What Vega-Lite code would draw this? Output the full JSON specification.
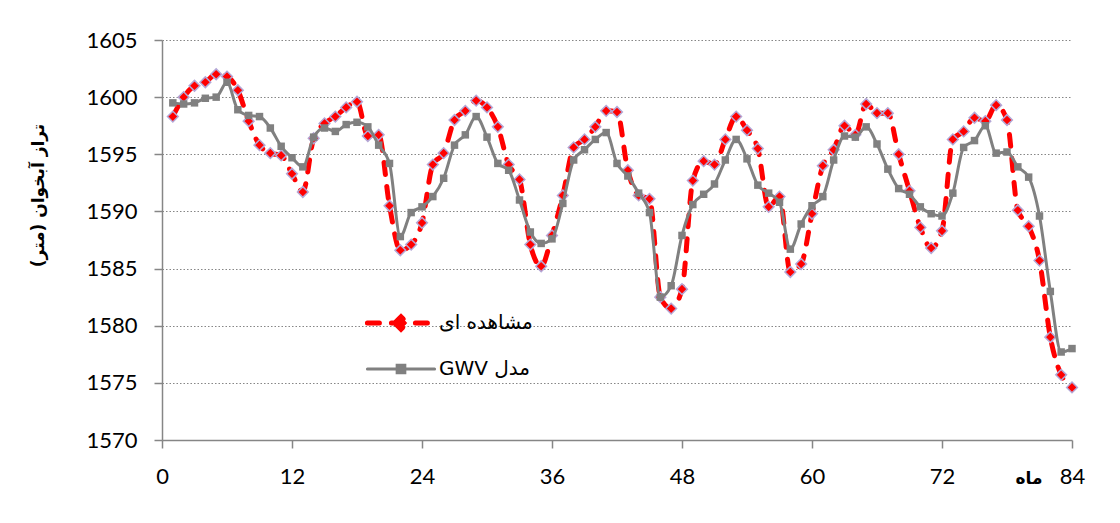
{
  "$schema": "https://vega.github.io/schema/vega-lite/v6.json",
  "width": 910,
  "height": 400,
  "autosize": {"type": "none"},
  "padding": {"left": 162, "top": 40, "right": 48, "bottom": 83},
  "background": "white",
  "config": {"view": {"stroke": null}, "font": "Lato"},
  "data": {"values": [
    {"month":1,"series":"مشاهده ای","level":1598.3},{"month":2,"series":"مشاهده ای","level":1600.0},{"month":3,"series":"مشاهده ای","level":1601.0},{"month":4,"series":"مشاهده ای","level":1601.3},{"month":5,"series":"مشاهده ای","level":1602.0},{"month":6,"series":"مشاهده ای","level":1601.8},{"month":7,"series":"مشاهده ای","level":1600.6},{"month":8,"series":"مشاهده ای","level":1597.9},{"month":9,"series":"مشاهده ای","level":1595.8},{"month":10,"series":"مشاهده ای","level":1595.1},{"month":11,"series":"مشاهده ای","level":1594.9},{"month":12,"series":"مشاهده ای","level":1593.3},{"month":13,"series":"مشاهده ای","level":1591.7},{"month":14,"series":"مشاهده ای","level":1596.4},{"month":15,"series":"مشاهده ای","level":1597.7},{"month":16,"series":"مشاهده ای","level":1598.3},{"month":17,"series":"مشاهده ای","level":1599.1},{"month":18,"series":"مشاهده ای","level":1599.6},{"month":19,"series":"مشاهده ای","level":1596.6},{"month":20,"series":"مشاهده ای","level":1596.7},{"month":21,"series":"مشاهده ای","level":1590.5},{"month":22,"series":"مشاهده ای","level":1586.6},{"month":23,"series":"مشاهده ای","level":1587.1},{"month":24,"series":"مشاهده ای","level":1589.0},{"month":25,"series":"مشاهده ای","level":1594.1},{"month":26,"series":"مشاهده ای","level":1595.1},{"month":27,"series":"مشاهده ای","level":1598.0},{"month":28,"series":"مشاهده ای","level":1598.8},{"month":29,"series":"مشاهده ای","level":1599.7},{"month":30,"series":"مشاهده ای","level":1599.1},{"month":31,"series":"مشاهده ای","level":1597.4},{"month":32,"series":"مشاهده ای","level":1594.1},{"month":33,"series":"مشاهده ای","level":1592.8},{"month":34,"series":"مشاهده ای","level":1587.1},{"month":35,"series":"مشاهده ای","level":1585.2},{"month":36,"series":"مشاهده ای","level":1587.9},{"month":37,"series":"مشاهده ای","level":1591.4},{"month":38,"series":"مشاهده ای","level":1595.6},{"month":39,"series":"مشاهده ای","level":1596.3},{"month":40,"series":"مشاهده ای","level":1597.4},{"month":41,"series":"مشاهده ای","level":1598.8},{"month":42,"series":"مشاهده ای","level":1598.7},{"month":43,"series":"مشاهده ای","level":1593.6},{"month":44,"series":"مشاهده ای","level":1591.4},{"month":45,"series":"مشاهده ای","level":1591.1},{"month":46,"series":"مشاهده ای","level":1582.5},{"month":47,"series":"مشاهده ای","level":1581.5},{"month":48,"series":"مشاهده ای","level":1583.2},{"month":49,"series":"مشاهده ای","level":1592.7},{"month":50,"series":"مشاهده ای","level":1594.4},{"month":51,"series":"مشاهده ای","level":1594.1},{"month":52,"series":"مشاهده ای","level":1596.3},{"month":53,"series":"مشاهده ای","level":1598.3},{"month":54,"series":"مشاهده ای","level":1597.1},{"month":55,"series":"مشاهده ای","level":1595.5},{"month":56,"series":"مشاهده ای","level":1590.4},{"month":57,"series":"مشاهده ای","level":1591.3},{"month":58,"series":"مشاهده ای","level":1584.7},{"month":59,"series":"مشاهده ای","level":1585.4},{"month":60,"series":"مشاهده ای","level":1589.8},{"month":61,"series":"مشاهده ای","level":1594.0},{"month":62,"series":"مشاهده ای","level":1595.4},{"month":63,"series":"مشاهده ای","level":1597.5},{"month":64,"series":"مشاهده ای","level":1596.7},{"month":65,"series":"مشاهده ای","level":1599.4},{"month":66,"series":"مشاهده ای","level":1598.6},{"month":67,"series":"مشاهده ای","level":1598.6},{"month":68,"series":"مشاهده ای","level":1595.0},{"month":69,"series":"مشاهده ای","level":1591.8},{"month":70,"series":"مشاهده ای","level":1588.6},{"month":71,"series":"مشاهده ای","level":1586.8},{"month":72,"series":"مشاهده ای","level":1588.3},{"month":73,"series":"مشاهده ای","level":1596.3},{"month":74,"series":"مشاهده ای","level":1597.0},{"month":75,"series":"مشاهده ای","level":1598.2},{"month":76,"series":"مشاهده ای","level":1597.9},{"month":77,"series":"مشاهده ای","level":1599.3},{"month":78,"series":"مشاهده ای","level":1598.0},{"month":79,"series":"مشاهده ای","level":1590.1},{"month":80,"series":"مشاهده ای","level":1588.7},{"month":81,"series":"مشاهده ای","level":1585.7},{"month":82,"series":"مشاهده ای","level":1579.0},{"month":83,"series":"مشاهده ای","level":1575.7},{"month":84,"series":"مشاهده ای","level":1574.6},
    {"month":1,"series":"مدل GWV","level":1599.5},{"month":2,"series":"مدل GWV","level":1599.4},{"month":3,"series":"مدل GWV","level":1599.5},{"month":4,"series":"مدل GWV","level":1599.9},{"month":5,"series":"مدل GWV","level":1600.0},{"month":6,"series":"مدل GWV","level":1601.3},{"month":7,"series":"مدل GWV","level":1598.9},{"month":8,"series":"مدل GWV","level":1598.4},{"month":9,"series":"مدل GWV","level":1598.3},{"month":10,"series":"مدل GWV","level":1597.3},{"month":11,"series":"مدل GWV","level":1595.7},{"month":12,"series":"مدل GWV","level":1594.7},{"month":13,"series":"مدل GWV","level":1593.9},{"month":14,"series":"مدل GWV","level":1596.5},{"month":15,"series":"مدل GWV","level":1597.3},{"month":16,"series":"مدل GWV","level":1597.0},{"month":17,"series":"مدل GWV","level":1597.6},{"month":18,"series":"مدل GWV","level":1597.8},{"month":19,"series":"مدل GWV","level":1597.4},{"month":20,"series":"مدل GWV","level":1595.8},{"month":21,"series":"مدل GWV","level":1594.2},{"month":22,"series":"مدل GWV","level":1587.8},{"month":23,"series":"مدل GWV","level":1589.9},{"month":24,"series":"مدل GWV","level":1590.4},{"month":25,"series":"مدل GWV","level":1591.3},{"month":26,"series":"مدل GWV","level":1592.9},{"month":27,"series":"مدل GWV","level":1595.8},{"month":28,"series":"مدل GWV","level":1596.7},{"month":29,"series":"مدل GWV","level":1598.3},{"month":30,"series":"مدل GWV","level":1596.5},{"month":31,"series":"مدل GWV","level":1594.2},{"month":32,"series":"مدل GWV","level":1593.6},{"month":33,"series":"مدل GWV","level":1591.0},{"month":34,"series":"مدل GWV","level":1588.2},{"month":35,"series":"مدل GWV","level":1587.2},{"month":36,"series":"مدل GWV","level":1587.6},{"month":37,"series":"مدل GWV","level":1590.7},{"month":38,"series":"مدل GWV","level":1594.5},{"month":39,"series":"مدل GWV","level":1595.4},{"month":40,"series":"مدل GWV","level":1596.3},{"month":41,"series":"مدل GWV","level":1596.9},{"month":42,"series":"مدل GWV","level":1594.2},{"month":43,"series":"مدل GWV","level":1593.1},{"month":44,"series":"مدل GWV","level":1591.6},{"month":45,"series":"مدل GWV","level":1589.9},{"month":46,"series":"مدل GWV","level":1582.5},{"month":47,"series":"مدل GWV","level":1583.5},{"month":48,"series":"مدل GWV","level":1587.9},{"month":49,"series":"مدل GWV","level":1590.6},{"month":50,"series":"مدل GWV","level":1591.5},{"month":51,"series":"مدل GWV","level":1592.4},{"month":52,"series":"مدل GWV","level":1594.5},{"month":53,"series":"مدل GWV","level":1596.3},{"month":54,"series":"مدل GWV","level":1594.6},{"month":55,"series":"مدل GWV","level":1592.3},{"month":56,"series":"مدل GWV","level":1591.6},{"month":57,"series":"مدل GWV","level":1590.8},{"month":58,"series":"مدل GWV","level":1586.7},{"month":59,"series":"مدل GWV","level":1588.9},{"month":60,"series":"مدل GWV","level":1590.5},{"month":61,"series":"مدل GWV","level":1591.3},{"month":62,"series":"مدل GWV","level":1594.5},{"month":63,"series":"مدل GWV","level":1596.6},{"month":64,"series":"مدل GWV","level":1596.5},{"month":65,"series":"مدل GWV","level":1597.4},{"month":66,"series":"مدل GWV","level":1595.9},{"month":67,"series":"مدل GWV","level":1593.7},{"month":68,"series":"مدل GWV","level":1592.0},{"month":69,"series":"مدل GWV","level":1591.5},{"month":70,"series":"مدل GWV","level":1590.4},{"month":71,"series":"مدل GWV","level":1589.8},{"month":72,"series":"مدل GWV","level":1589.6},{"month":73,"series":"مدل GWV","level":1591.6},{"month":74,"series":"مدل GWV","level":1595.6},{"month":75,"series":"مدل GWV","level":1596.2},{"month":76,"series":"مدل GWV","level":1597.5},{"month":77,"series":"مدل GWV","level":1595.1},{"month":78,"series":"مدل GWV","level":1595.2},{"month":79,"series":"مدل GWV","level":1593.9},{"month":80,"series":"مدل GWV","level":1593.0},{"month":81,"series":"مدل GWV","level":1589.6},{"month":82,"series":"مدل GWV","level":1583.0},{"month":83,"series":"مدل GWV","level":1577.7},{"month":84,"series":"مدل GWV","level":1578.0}
  ]},
  "encoding": {
    "x": {
      "field": "month", "type": "quantitative",
      "scale": {"domain": [0, 84], "nice": false, "zero": false},
      "axis": {
        "values": [0, 12, 24, 36, 48, 60, 72, 84],
        "format": "d",
        "grid": false,
        "tickSize": 8, "tickColor": "#868686", "tickWidth": 1.5,
        "domainColor": "#868686", "domainWidth": 1.5,
        "labelFont": "Lato", "labelFontSize": 22, "labelColor": "#000000",
        "labelPadding": 18, "labelFlush": false,
        "title": "ماه",
        "titleFont": "DejaVu Sans", "titleFontSize": 17, "titleFontWeight": "bold", "titleColor": "#000000",
        "titleX": 880, "titleY": 38, "titleAlign": "right", "titleBaseline": "middle", "titleAngle": 0
      }
    },
    "y": {
      "field": "level", "type": "quantitative",
      "scale": {"domain": [1570, 1605], "nice": false, "zero": false},
      "axis": {
        "values": [1570, 1575, 1580, 1585, 1590, 1595, 1600, 1605],
        "format": "d",
        "grid": true, "gridColor": "#868686", "gridDash": [1.5, 2], "gridWidth": 1.2,
        "tickSize": 8, "tickColor": "#868686", "tickWidth": 1.5,
        "domainColor": "#868686", "domainWidth": 1.5,
        "labelFont": "Lato", "labelFontSize": 22, "labelColor": "#000000",
        "labelPadding": 17,
        "title": "‫تراز آبخوان (متر)‬",
        "titleFont": "DejaVu Sans", "titleFontSize": 17, "titleFontWeight": "bold", "titleColor": "#000000",
        "titleX": -124, "titleY": 155, "titleAngle": -90, "titleAlign": "center", "titleBaseline": "middle"
      }
    },
    "color": {
      "field": "series", "type": "nominal",
      "scale": {"domain": ["مشاهده ای", "مدل GWV"], "range": ["#FF0000", "#808080"]},
      "legend": {
        "orient": "none", "legendX": 229, "legendY": 273, "title": null, "padding": 0,
        "symbolSize": 2304, "rowPadding": 19, "labelOffset": 28,
        "labelFont": "DejaVu Sans", "labelFontSize": 20, "labelColor": "#000000",
        "labelExpr": "datum.label == 'مدل GWV' ? '‫مدل GWV‬' : datum.label",
        "encode": {
          "symbols": {
            "update": {
              "shape": {"signal": "datum.value == 'مشاهده ای' ? 'M-1.4,0H1.4M-0.26,0L0,-0.26L0.26,0L0,0.26Z' : 'M-1.4,0H1.4M-0.16,-0.16H0.16V0.16H-0.16Z'"},
              "fill": {"signal": "datum.value == 'مشاهده ای' ? '#FF0000' : '#808080'"},
              "stroke": {"signal": "datum.value == 'مشاهده ای' ? '#FF0000' : '#808080'"},
              "strokeDash": {"signal": "datum.value == 'مشاهده ای' ? [12, 12] : [1, 0]"},
              "strokeWidth": {"signal": "datum.value == 'مشاهده ای' ? 5 : 3"},
              "strokeCap": {"value": "round"},
              "opacity": {"value": 1},
              "fillOpacity": {"value": 1},
              "strokeOpacity": {"value": 1}
            }
          }
        }
      }
    }
  },
  "layer": [
    {
      "transform": [{"filter": "datum.series == 'مشاهده ای'"}],
      "mark": {"type": "line", "strokeWidth": 5, "strokeDash": [12, 12], "strokeCap": "round", "interpolate": "monotone"}
    },
    {
      "transform": [{"filter": "datum.series == 'مشاهده ای'"}],
      "mark": {"type": "point", "shape": "diamond", "filled": true, "size": 115, "stroke": "#B4A7D6", "strokeWidth": 1.5, "opacity": 1}
    },
    {
      "transform": [{"filter": "datum.series == 'مدل GWV'"}],
      "mark": {"type": "line", "strokeWidth": 3, "interpolate": "monotone"}
    },
    {
      "transform": [{"filter": "datum.series == 'مدل GWV'"}],
      "mark": {"type": "point", "shape": "square", "filled": true, "size": 56, "opacity": 1}
    }
  ]
}
